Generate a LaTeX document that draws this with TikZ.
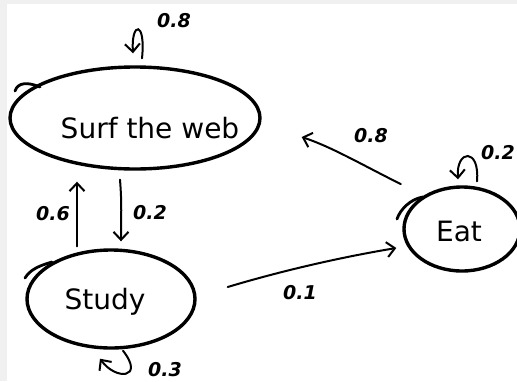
\documentclass[tikz,border=0pt]{standalone}
\usepackage{fontspec}
\setmainfont{DejaVu Sans}
\usetikzlibrary{shapes.geometric,arrows.meta}
\definecolor{stripgray}{RGB}{240,240,240}

\begin{document}
\begin{tikzpicture}[x=1pt,y=-1pt,
	state/.style={ellipse, draw, line width=3.4pt, inner sep=0pt},
	statetext/.style={font=\fontsize{28}{30}\selectfont},
	hook/.style={line width=2.8pt, line cap=round},
	edge/.style={line width=2pt, line cap=round, -{Straight Barb[length=8pt,width=15pt,line width=2pt]}},
	prob/.style={font=\fontsize{19}{21}\selectfont\bfseries\itshape}]
	
	% BACKGROUND AND STRIPS
	\useasboundingbox (0,0) rectangle (517,381);
	\clip (0,0) rectangle (517,381);
	\fill[stripgray] (0,0) rectangle (517,381);
	\fill[white] (7,4) rectangle (517,381);
	
	% WRITE THE THREE STATES
	\node[state, minimum width=250pt, minimum height=102pt] (surf) at (135,118) {};
	\node[statetext] (surftext) at (150,128) {Surf the web};
	
	\node[state, minimum width=168pt, minimum height=98pt] (study) at (111,299) {};
	\node[statetext] (studytext) at (105,302) {Study};
	
	\node[state, minimum width=116pt, minimum height=84pt] (eat) at (462,229) {};
	\node[statetext] (eattext) at (459,231) {Eat};
	
	% PEN STARTS
	\draw[hook] (15,91) .. controls (18,82) and (28,82) .. (40,87);
	\draw[hook] (25,278) .. controls (30,270) and (38,266) .. (52,262);
	\draw[hook] (397,219) .. controls (400,210) and (410,199) .. (423,197);
	
	% DRAW THE TRANSITIONS
	\draw[edge] ([shift={(-34,-2)}]study.north) -- ([shift={(-58,11)}]surf.south);
	\draw[edge] ([shift={(-15,9)}]surf.south) .. controls +(2,25) and +(0,-25) .. ([shift={(10,-7)}]study.north);
	\draw[edge] ([shift={(-19,-14)}]eat.north west) .. controls +(-40,-20) and +(30,10) .. ([shift={(40,19)}]surf.east);
	\draw[edge] ([shift={(31,-12)}]study.east) .. controls +(50,-15) and +(-60,10) .. ([shift={(-6,19)}]eat.west);
	
	% SELF LOOPS
	\draw[edge] ([shift={(7,-7)}]surf.north) .. controls +(4,-38) and +(-2,-32) .. ([shift={(-2,-12)}]surf.north);
	\draw[edge] ([shift={(15,-4)}]eat.north) .. controls +(3,-34) and +(-2,-30) .. ([shift={(-4,-6)}]eat.north);
	\draw[edge] ([shift={(12,1)}]study.south) .. controls +(22,28) and +(16,22) .. ([shift={(-11,9)}]study.south);
	
	% WRITE THE PROBABILITIES
	\node[prob] (psurf) at (174,21) {0.8};
	\node[prob] (pup) at (53,214) {0.6};
	\node[prob] (pdown) at (150,213) {0.2};
	\node[prob] (pstudy) at (165,370) {0.3};
	\node[prob, anchor=east, inner sep=1pt] (peat) at (516,153) {0.2};
	\node[prob] (pback) at (371,136) {0.8};
	\node[prob] (pgo) at (300,293) {0.1};
\end{tikzpicture}
\end{document}
